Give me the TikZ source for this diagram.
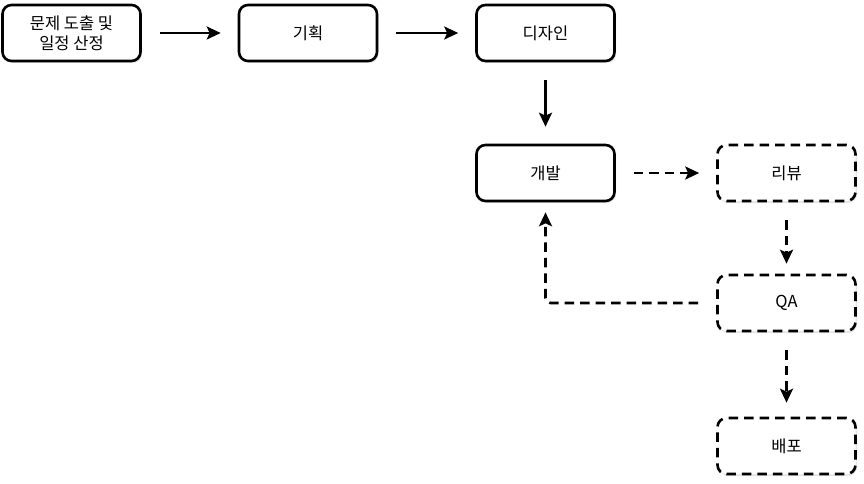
\documentclass[tikz,border=0pt]{standalone}
\usepackage{fontspec}
\setmainfont{Noto Sans CJK KR}
\usepackage{tikz}
\usetikzlibrary{arrows.meta, positioning, shadows}

\begin{document}
\begin{tikzpicture}[x=1pt, y=-1pt,
    stage/.style={draw=black, line width=2.6pt, fill=white, minimum width=138pt, minimum height=56pt, align=center, rounded corners=9pt, font=\fontsize{16.5}{20}\selectfont, drop shadow={shadow xshift=1.5pt, shadow yshift=-2pt, opacity=0.2}},
    loopstage/.style={stage, dash pattern=on 9.5pt off 6pt},
    arr/.style={-{Stealth[length=14pt, width=13pt, inset=3pt]}, line width=2.6pt, shorten <=18pt, shorten >=17pt},
    darr/.style={arr, dash pattern=on 9.5pt off 6pt}
]
    \useasboundingbox (0,0) rectangle (864,484);

    % Main flow
    \node[stage] (issue) at (71.5, 33) {문제 도출 및\\일정 산정};
    \node[stage] (plan) at (308, 33) {기획};
    \node[stage] (design) at (545.5, 33) {디자인};
    \node[stage] (dev) at (545.5, 173) {개발};

    % Review loop
    \node[loopstage] (review) at (786.5, 173) {리뷰};
    \node[loopstage] (qa) at (786.5, 303) {QA};
    \node[loopstage] (deploy) at (786.5, 446) {배포};

    % Connections
    \draw[arr] (issue) -- (plan);
    \draw[arr] (plan) -- (design);
    \draw[arr] (design) -- (dev);
    \draw[darr] (dev) -- (review);
    \draw[darr, shorten >=10pt] (review) -- (qa);
    \draw[darr, shorten >=14pt] (qa) -- (deploy);
    \draw[darr, rounded corners=5pt, shorten >=10pt] (qa.west) -| (dev.south);
\end{tikzpicture}
\end{document}
